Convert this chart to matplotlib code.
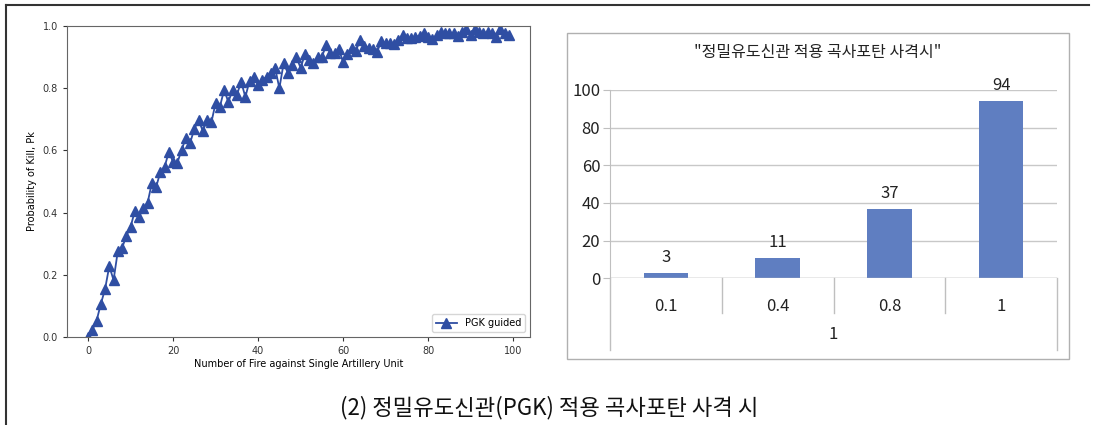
import matplotlib.pyplot as plt
import numpy as np
from matplotlib.patches import Rectangle
from matplotlib.lines import Line2D

# left panel: Pk vs number of fire
pk = [0.0, 0.023, 0.052, 0.106, 0.154, 0.228, 0.183, 0.276, 0.286, 0.325,
      0.354, 0.405, 0.386, 0.415, 0.431, 0.495, 0.482, 0.53, 0.547, 0.595,
      0.563, 0.56, 0.601, 0.64, 0.624, 0.669, 0.698, 0.662, 0.698, 0.69,
      0.752, 0.74, 0.794, 0.756, 0.794, 0.778, 0.821, 0.772, 0.824, 0.836,
      0.81, 0.826, 0.837, 0.849, 0.865, 0.80, 0.88, 0.849, 0.873, 0.90,
      0.865, 0.909, 0.89, 0.88, 0.899, 0.90, 0.939, 0.912, 0.912, 0.926,
      0.883, 0.909, 0.93, 0.92, 0.955, 0.937, 0.93, 0.926, 0.917, 0.952,
      0.945, 0.945, 0.941, 0.955, 0.971, 0.96, 0.96, 0.966, 0.968, 0.976,
      0.966, 0.957, 0.971, 0.982, 0.979, 0.979, 0.976, 0.968, 0.982, 0.99,
      0.971, 0.99, 0.982, 0.976, 0.982, 0.976, 0.966, 0.99, 0.979, 0.971]
shots = list(range(len(pk)))

# right panel
categories = ['0.1', '0.4', '0.8', '1']
counts = [3, 11, 37, 94]
group_label = '1'
bar_title = '"정밀유도신관 적용 곡사포탄 사격시"'
caption = '(2) 정밀유도신관(PGK) 적용 곡사포탄 사격 시'

W, H = 1093, 425
fig = plt.figure(figsize=(W / 100, H / 100), dpi=100)

def rect(x0, y0, x1, y1):
    return [x0 / W, 1 - y1 / H, (x1 - x0) / W, (y1 - y0) / H]

# outer frame lines
fig.add_artist(Line2D([6 / W, 6 / W], [0, 1 - 5 / H], color='#333333', lw=1.5))
fig.add_artist(Line2D([6 / W, 1 - 4 / W], [1 - 5 / H, 1 - 5 / H], color='#333333', lw=1.5))

# ---- left chart
ax = fig.add_axes(rect(67, 26, 530, 337))
ax.plot(shots, pk, color='#2f4ea3', marker='^', markersize=6.5, lw=1.3, label='PGK guided')
ax.set_ylim(0, 1.0)
ax.set_xlim(-4.95, 103.95)
ax.set_yticks(np.arange(0, 1.01, 0.2))
ax.set_xticks([0, 20, 40, 60, 80, 100])
ax.tick_params(labelsize=7, colors='#333333', length=3)
for s in ax.spines.values():
    s.set_color('#666666')
ax.set_xlabel('Number of Fire against Single Artillery Unit', fontsize=7, labelpad=2)
ax.set_ylabel('Probability of Kill, Pk', fontsize=7, labelpad=4)
ax.legend(loc='lower right', fontsize=7, handlelength=2.2)

# ---- right chart
fig.add_artist(Rectangle((567 / W, 1 - 359 / H), (1069 - 567) / W, (359 - 33) / H,
                         fill=False, edgecolor='#b0b0b0', lw=1))
kr = ['Noto Sans CJK KR', 'DejaVu Sans']
bx = fig.add_axes(rect(610, 90, 1057, 278.3))
xpos = np.arange(len(categories))
bx.bar(xpos, counts, width=0.4, color='#5f7ec1', zorder=3)
bx.set_xlim(-0.5, 3.5)
bx.set_ylim(0, 100)
bx.set_yticks(range(0, 101, 20))
bx.set_yticklabels([str(v) for v in range(0, 101, 20)], family=kr, fontsize=12, color='#222222')
bx.set_xticks([])
bx.tick_params(axis='y', length=5, color='#bfbfbf', pad=2)
bx.yaxis.grid(True, color='#c8c8c8', lw=1, zorder=0)
for k in ['top', 'right', 'bottom']:
    bx.spines[k].set_visible(False)
bx.spines['left'].set_color('#bfbfbf')
bx.axhline(0, color='#bfbfbf', lw=1, zorder=4)
for x, v in zip(xpos, counts):
    bx.annotate(str(v), (x, v), xytext=(0, 5), textcoords='offset points',
                ha='center', va='bottom', family=kr, fontsize=12, color='#222222')
tr = bx.get_xaxis_transform()
for x, c in zip(xpos, categories):
    bx.text(x, -0.15, c, transform=tr, ha='center', va='center', family=kr, fontsize=12, color='#222222')
for b in [0.5, 1.5, 2.5]:
    bx.plot([b, b], [0, -0.186], transform=tr, color='#bfbfbf', lw=1, clip_on=False)
for b in [-0.5, 3.5]:
    bx.plot([b, b], [0, -0.382], transform=tr, color='#bfbfbf', lw=1, clip_on=False)
bx.text(1.5, -0.30, group_label, transform=tr, ha='center', va='center', family=kr, fontsize=12, color='#222222')
fig.text(818 / W, 1 - 53 / H, bar_title, ha='center', va='center', family=kr, fontsize=11.5, color='#222222')

# caption
fig.text(549 / W, 1 - 408 / H, caption, ha='center', va='center', family=kr, fontsize=16, color='#111111')

fig.savefig('out.png', dpi=100)
